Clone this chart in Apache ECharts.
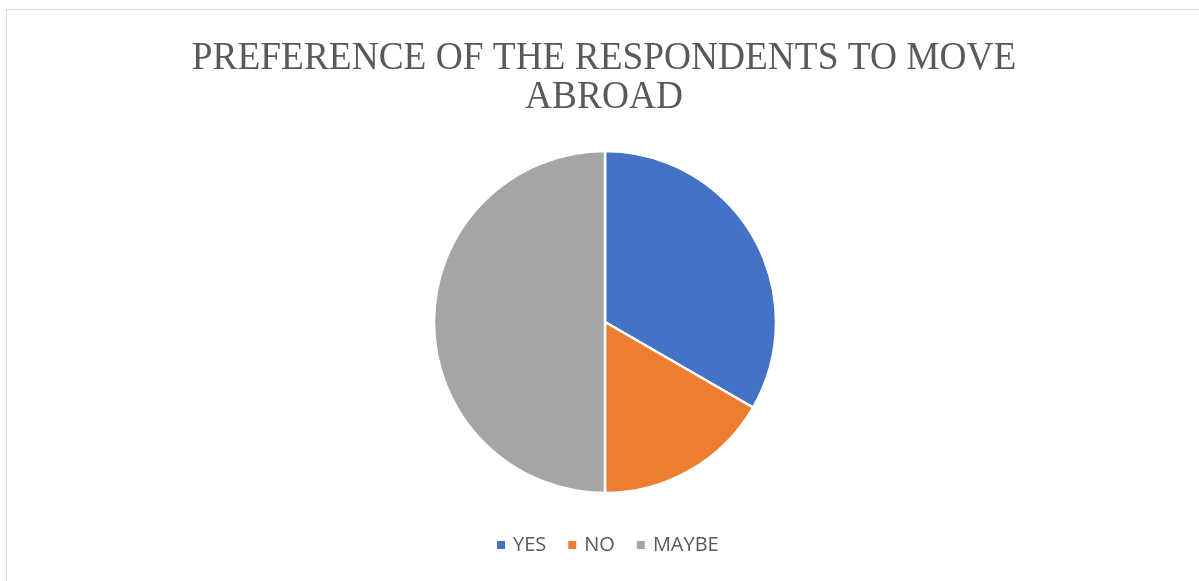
<!DOCTYPE html>
<html>
<head>
<meta charset="utf-8">
<script src="https://cdn.jsdelivr.net/npm/echarts@6/dist/echarts.min.js"></script>
<style>
  html, body { margin: 0; padding: 0; background: #ffffff; }
  #frame {
    position: absolute; left: 6px; top: 9px; width: 1200px; height: 580px;
    border: 1px solid #d9d9d9; box-sizing: border-box;
  }
  #chart { position: absolute; left: 0; top: 0; width: 1199px; height: 581px; }
</style>
</head>
<body>
<div id="frame"></div>
<div id="chart"></div>
<script>
// Survey answers
const categories = ['YES', 'NO', 'MAYBE'];
const responses = [20, 10, 30];
const sliceColors = ['#4472C4', '#ED7D31', '#A5A5A5'];
const chartTitle = 'PREFERENCE OF THE RESPONDENTS TO MOVE\nABROAD';

const chart = echarts.init(document.getElementById('chart'));
chart.setOption({
  animation: false,
  // Title drawn as a slightly condensed serif text block
  graphic: [{
    type: 'text',
    x: 604,
    y: 39,
    scaleX: 0.934,
    silent: true,
    style: {
      text: chartTitle,
      align: 'center',
      verticalAlign: 'top',
      fontFamily: 'Liberation Serif',
      fontSize: 40,
      lineHeight: 39,
      fill: '#595959'
    }
  }],
  legend: {
    data: categories,
    top: 535,
    left: 497,
    padding: 0,
    icon: 'rect',
    itemWidth: 8,
    itemHeight: 8,
    itemGap: 22,
    // plain squares, without the slice outline
    itemStyle: { borderWidth: 0 },
    textStyle: {
      fontFamily: 'Open Sans',
      fontSize: 20,
      color: '#595959',
      padding: [0, 0, 0, 3]
    }
  },
  series: [{
    type: 'pie',
    center: [605, 322],
    radius: 171,
    startAngle: 90,
    clockwise: true,
    label: { show: false },
    labelLine: { show: false },
    itemStyle: { borderColor: '#ffffff', borderWidth: 2.5 },
    emphasis: { disabled: true },
    data: categories.map((name, i) => ({
      name,
      value: responses[i],
      itemStyle: { color: sliceColors[i] }
    }))
  }]
});
</script>
</body>
</html>
